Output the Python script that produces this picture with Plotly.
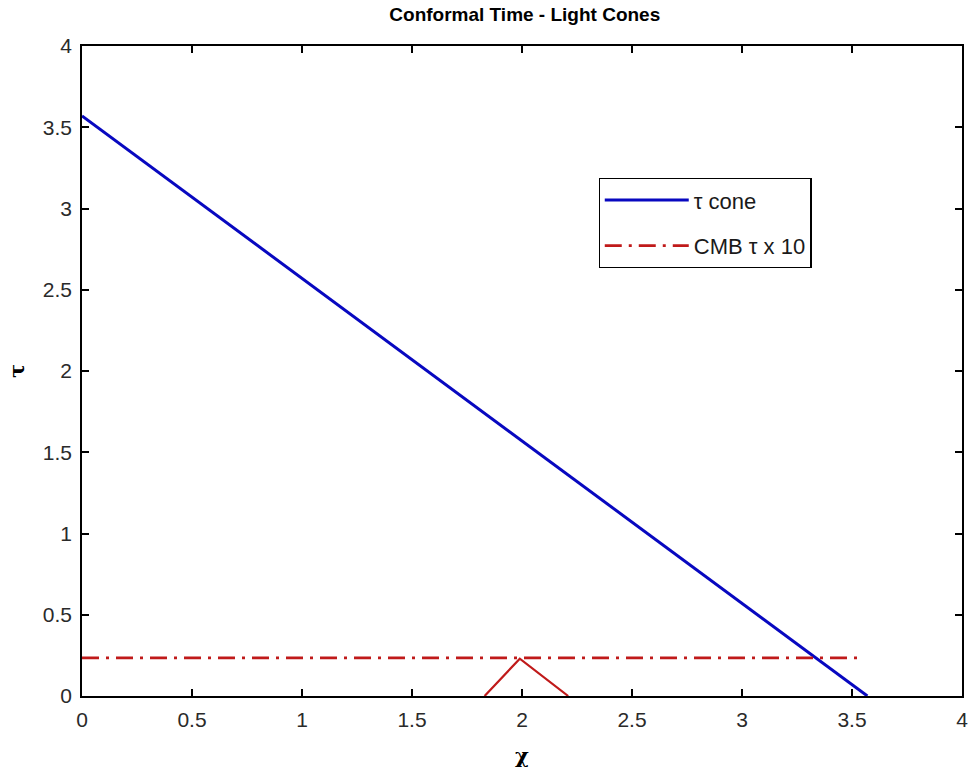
import plotly.graph_objects as go

# data
cone_chi = [0.0, 1.0, 2.0, 3.0, 3.57]
cone_tau = [3.57, 2.57, 1.57, 0.57, 0.0]

cmb_chi = [0.0, 3.55]
cmb_tau = [0.235, 0.235]

small_chi = [1.83, 1.99, 2.21]
small_tau = [0.0, 0.23, 0.0]

ticks = [0, 0.5, 1, 1.5, 2, 2.5, 3, 3.5, 4]
tick_text = ["0", "0.5", "1", "1.5", "2", "2.5", "3", "3.5", "4"]

BLUE = "#0808c0"
RED = "#c01a1a"
FONT = "Liberation Sans, Arial, sans-serif"

fig = go.Figure()
fig.add_trace(go.Scatter(x=cone_chi, y=cone_tau, mode="lines", name="τ cone",
                         line=dict(color=BLUE, width=3), legendgroup="a"))
fig.add_trace(go.Scatter(x=cmb_chi, y=cmb_tau, mode="lines", name="CMB τ x 10",
                         line=dict(color=RED, width=2.8, dash="17px,7px,3px,7px"),
                         legendgroup="b"))
fig.add_trace(go.Scatter(x=small_chi, y=small_tau, mode="lines", showlegend=False,
                         line=dict(color=RED, width=2.2)))

axis_common = dict(
    range=[0, 4], tickvals=ticks, ticktext=tick_text,
    showline=True, linecolor="black", linewidth=1.5, mirror="ticks",
    ticks="inside", ticklen=7, tickwidth=1.5, tickcolor="black",
    showgrid=False, zeroline=False,
    tickfont=dict(family=FONT, size=21, color="#2a2a2a"),
)

fig.update_layout(
    width=976, height=774,
    margin=dict(l=82, r=8, t=46, b=78),
    paper_bgcolor="white", plot_bgcolor="white",
    title=dict(text="<b>Conformal Time - Light Cones</b>", x=0.5377, xanchor="center",
               y=0.982, yanchor="middle",
               font=dict(family=FONT, size=19, color="black")),
    xaxis=dict(**axis_common, ticklabelstandoff=4,
               title=dict(text="<b>χ</b>", standoff=18,
                          font=dict(family="DejaVu Serif, serif", size=21, color="black"))),
    yaxis=dict(**axis_common, ticklabelstandoff=4,
               title=dict(text="<b>τ</b>", standoff=12,
                          font=dict(family="DejaVu Serif, serif", size=21, color="black"))),
    legend=dict(x=0.587, y=0.797, xanchor="left", yanchor="top",
                bordercolor="black", borderwidth=1.2, bgcolor="white",
                font=dict(family=FONT, size=22, color="#1a1a1a"),
                itemwidth=84, tracegroupgap=14),
    showlegend=True,
)

fig.write_html("out.html")
